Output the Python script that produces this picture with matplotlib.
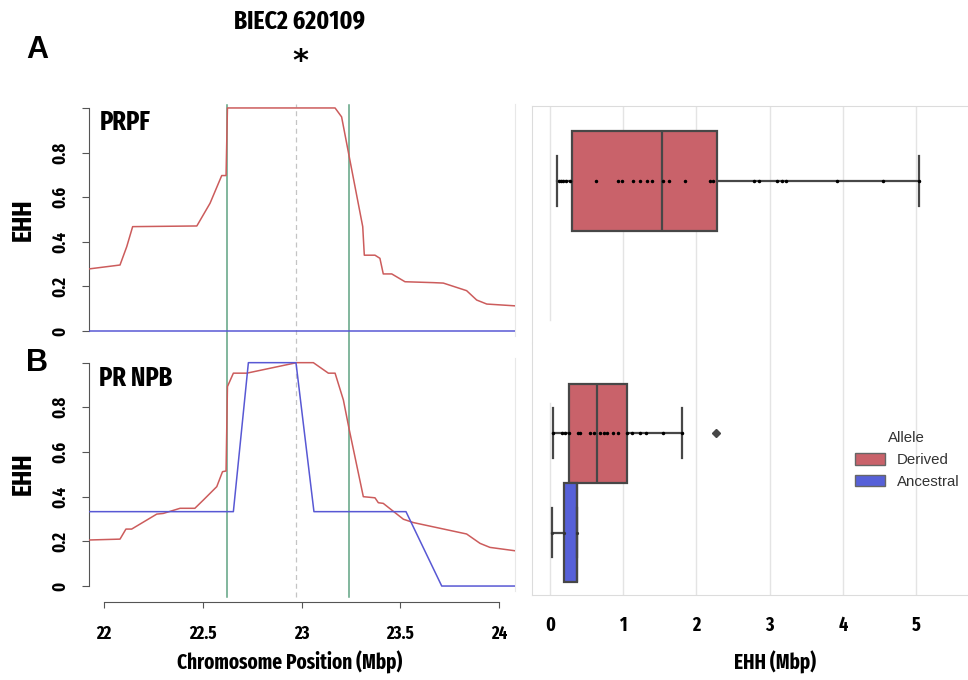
import matplotlib
matplotlib.use("Agg")
import matplotlib.pyplot as plt
from matplotlib import font_manager as fm
from matplotlib.patches import Patch

# -----------------------------------------------------------------------------
# DATA
# -----------------------------------------------------------------------------
# Panel A (PRPF): EHH decay around BIEC2 620109
prpf_der_pos = [21.92, 22.081, 22.115, 22.145, 22.47, 22.537, 22.596, 22.618, 22.625,
                23.17, 23.203, 23.242, 23.31, 23.318, 23.372, 23.397, 23.414, 23.457,
                23.524, 23.667, 23.718, 23.836, 23.887, 23.938, 24.08]
prpf_der_ehh = [0.278, 0.296, 0.378, 0.468, 0.471, 0.573, 0.697, 0.697, 1.0,
                1.0, 0.96, 0.78, 0.468, 0.34, 0.34, 0.326, 0.256, 0.256,
                0.221, 0.217, 0.215, 0.181, 0.139, 0.121, 0.113]
prpf_anc_pos = [21.92, 24.08]
prpf_anc_ehh = [0.0, 0.0]

# Panel B (PR NPB)
npb_der_pos = [21.92, 22.081, 22.111, 22.14, 22.267, 22.30, 22.385, 22.46, 22.503,
               22.571, 22.60, 22.618, 22.625, 22.655, 22.723, 22.975, 23.06, 23.136,
               23.17, 23.212, 23.242, 23.313, 23.372, 23.389, 23.414, 23.516, 23.567,
               23.836, 23.904, 23.954, 24.08]
npb_der_ehh = [0.206, 0.21, 0.255, 0.255, 0.322, 0.325, 0.348, 0.348, 0.385,
               0.445, 0.512, 0.515, 0.893, 0.953, 0.953, 1.0, 1.0, 0.953,
               0.953, 0.833, 0.699, 0.40, 0.395, 0.373, 0.37, 0.299, 0.284,
               0.233, 0.191, 0.173, 0.158]
npb_anc_pos = [21.92, 22.655, 22.731, 22.972, 23.063, 23.529, 23.71, 24.08]
npb_anc_ehh = [0.333, 0.333, 1.0, 1.0, 0.333, 0.333, 0.0, 0.0]

core_bounds = [22.623, 23.24]   # green lines
focal_snp = 22.972              # dashed line

pos_ticks = [22, 22.5, 23, 23.5, 24]
pos_labels = ["22", "22.5", "23", "23.5", "24"]
ehh_ticks = [0, 0.2, 0.4, 0.6, 0.8, 1.0]
ehh_labels = ["0", "0.2", "0.4", "0.6", "0.8", ""]

# Box plots of EHH length (Mbp)
prpf_box = dict(med=1.535, q1=0.296, q3=2.277, whislo=0.10, whishi=5.04, fliers=[])
prpf_points = [0.12, 0.15, 0.18, 0.22, 0.27, 0.63, 0.93, 0.98, 1.14, 1.23, 1.32, 1.39,
               1.54, 1.63, 1.85, 2.19, 2.22, 2.78, 2.85, 3.10, 3.17, 3.23, 3.92, 4.55, 5.04]

npb_der_box = dict(med=0.642, q1=0.26, q3=1.048, whislo=0.045, whishi=1.80, fliers=[2.272])
npb_der_points = [0.046, 0.16, 0.205, 0.264, 0.387, 0.41, 0.546, 0.60, 0.683, 0.738,
                  0.774, 0.865, 0.934, 1.048, 1.116, 1.23, 1.31, 1.548, 1.803]
npb_anc_box = dict(med=0.373, q1=0.191, q3=0.373, whislo=0.032, whishi=0.373, fliers=[])
npb_anc_points = [0.032, 0.191, 0.373]

box_ticks = [0, 1, 2, 3, 4, 5]
alleles = ["Derived", "Ancestral"]


# -----------------------------------------------------------------------------
# FONTS: look for a condensed bold face, else fall back to a narrow-ish one
# -----------------------------------------------------------------------------
def find_condensed_bold():
    ranked = []
    for f in fm.fontManager.ttflist:
        p = f.fname.lower().replace("-", "").replace("_", "")
        if "bold" not in p or "semibold" in p or "extrabold" in p or "italic" in p:
            continue
        if "extracondensed" in p:
            score = 0
        elif "semicondensed" in p:
            score = 3
        elif "condensed" in p:
            score = 1
        elif "narrow" in p:
            score = 2
        else:
            continue
        ranked.append((score, f.fname))
    ranked.sort()
    return ranked[0][1] if ranked else None


cond_file = find_condensed_bold()


def cfont(size):
    if cond_file:
        return dict(fontproperties=fm.FontProperties(fname=cond_file, size=size))
    return dict(family=["Roboto", "DejaVu Sans"], fontweight="bold", fontsize=size * 0.85)


# -----------------------------------------------------------------------------
# STYLE
# -----------------------------------------------------------------------------
RED_LINE = "#cc5c5c"
BLUE_LINE = "#5858d4"
GREEN = "#5fa383"
RED_BOX = "#c9626a"
BLUE_BOX = "#5660d8"
EDGE = "#474747"
GRID = "#e4e4e4"

W, H = 968, 680
fig = plt.figure(figsize=(W / 100, H / 100), dpi=100)


def fx(px):
    return px / W


def fy(py):
    return 1 - py / H


# -----------------------------------------------------------------------------
# LEFT: EHH decay curves
# -----------------------------------------------------------------------------
axA = fig.add_axes([fx(89), fy(335.5), 426 / W, 232 / H])
axB = fig.add_axes([fx(89), fy(590.5), 426 / W, 232.3 / H])
axB.patch.set_visible(False)

for ax in (axA, axB):
    ax.set_xlim(21.924, 24.081)
    ax.set_ylim(-0.02, 1.02)
    for s in ("top", "bottom"):
        ax.spines[s].set_visible(False)
    ax.spines["right"].set_color("#e8e8e8")
    ax.spines["left"].set_bounds(0, 1)
    ax.spines["left"].set_color("#555555")
    ax.set_yticks(ehh_ticks)
    ax.set_yticklabels(ehh_labels, rotation=90, va="center", **cfont(13))
    ax.tick_params(axis="y", length=5, color="#555555", pad=9)

axA.set_xticks([])
axA.plot(prpf_der_pos, prpf_der_ehh, color=RED_LINE, lw=1.1, zorder=3)
axA.plot(prpf_anc_pos, prpf_anc_ehh, color=BLUE_LINE, lw=1.1, zorder=3)
axB.plot(npb_der_pos, npb_der_ehh, color=RED_LINE, lw=1.1, zorder=3)
axB.plot(npb_anc_pos, npb_anc_ehh, color=BLUE_LINE, lw=1.1, zorder=3)

# vertical guide lines spanning both panels
for x in core_bounds:
    axA.axvline(x, ymin=-1.127, ymax=0.994, color=GREEN, lw=1.1, clip_on=False, zorder=2)
axA.axvline(focal_snp, ymin=-1.127, ymax=1.0, color="#c4c4c4", lw=0.9, ls=(0, (4, 3)),
            clip_on=False, zorder=1)

axB.spines["bottom"].set_visible(True)
axB.spines["bottom"].set_position(("outward", 8))
axB.spines["bottom"].set_bounds(22, 24)
axB.spines["bottom"].set_color("#555555")
axB.set_xticks(pos_ticks)
axB.set_xticklabels(pos_labels, **cfont(13))
axB.tick_params(axis="x", length=4, color="#555555", pad=13)

axA.text(0.026, 0.92, "PRPF", transform=axA.transAxes, ha="left", va="center", **cfont(19))
axB.text(0.023, 0.915, "PR NPB", transform=axB.transAxes, ha="left", va="center", **cfont(19))

fig.text(fx(23), fy(220), "EHH", rotation=90, ha="center", va="center", **cfont(20))
fig.text(fx(23), fy(474), "EHH", rotation=90, ha="center", va="center", **cfont(20))
fig.text(fx(290), fy(662), "Chromosome Position (Mbp)", ha="center", va="center", **cfont(15))

fig.text(fx(300), fy(21), "BIEC2 620109", ha="center", va="center", **cfont(18.5))
fig.text(fx(300), fy(62), "*", ha="center", va="center", fontsize=22, fontweight="bold")
fig.text(fx(37), fy(50), "A", ha="center", va="center", fontsize=22,
         family="Liberation Sans", fontweight="bold")
fig.text(fx(37), fy(363), "B", ha="center", va="center", fontsize=22,
         family="Liberation Sans", fontweight="bold")

# -----------------------------------------------------------------------------
# RIGHT: box plots
# -----------------------------------------------------------------------------
axR1 = fig.add_axes([fx(532), fy(343), (W - 532) / W, (343 - 106) / H])
axR2 = fig.add_axes([fx(532), fy(595), (W - 532) / W, (595 - 343) / H])

axR1.set_ylim(1.306, -0.605)
axR2.set_ylim(0.451, -0.563)

box_kw = dict(orientation="horizontal", patch_artist=True, manage_ticks=False,
              boxprops=dict(edgecolor=EDGE, linewidth=1.6),
              medianprops=dict(color=EDGE, linewidth=1.6),
              whiskerprops=dict(color=EDGE, linewidth=1.6),
              capprops=dict(color=EDGE, linewidth=1.6),
              flierprops=dict(marker="D", markersize=4.5, markerfacecolor=EDGE,
                              markeredgecolor=EDGE))

b1 = axR1.bxp([prpf_box], positions=[0], widths=[0.8], capwidths=[0.4], **box_kw)
b2 = axR2.bxp([npb_der_box, npb_anc_box], positions=[-0.2, 0.2], widths=[0.4, 0.4],
              capwidths=[0.2, 0.2], **box_kw)
b1["boxes"][0].set_facecolor(RED_BOX)
b2["boxes"][0].set_facecolor(RED_BOX)
b2["boxes"][1].set_facecolor(BLUE_BOX)

axR1.plot(prpf_points, [0] * len(prpf_points), "o", ms=1.5, color="black", zorder=4)
axR2.plot(npb_der_points, [-0.2] * len(npb_der_points), "o", ms=1.5, color="black", zorder=4)
axR2.plot(npb_anc_points, [0.2] * len(npb_anc_points), "o", ms=1.3, color="#333333", zorder=4)

for ax in (axR1, axR2):
    ax.set_xlim(-0.246, 5.71)
    ax.set_yticks([])
    ax.spines["right"].set_visible(False)
    for s in ("left", "top", "bottom"):
        ax.spines[s].set_color("#dcdcdc")
    for v in box_ticks[1:]:
        ax.axvline(v, color=GRID, lw=1.0, zorder=0)

axR1.axvline(box_ticks[0], ymin=0.097, ymax=1.0, color=GRID, lw=1.0, zorder=0)
axR2.axvline(box_ticks[0], ymin=0.0, ymax=0.762, color=GRID, lw=1.0, zorder=0)

axR1.spines["bottom"].set_visible(False)
axR1.set_xticks([])
axR2.spines["top"].set_visible(False)
axR2.set_xticks(box_ticks)
axR2.set_xticklabels([str(t) for t in box_ticks], **cfont(14))
axR2.tick_params(axis="x", length=0, pad=15)

fig.text(fx(775), fy(662), "EHH (Mbp)", ha="center", va="center", **cfont(15))

handles = [Patch(facecolor=RED_BOX, edgecolor="#666666", lw=1.0),
           Patch(facecolor=BLUE_BOX, edgecolor="#666666", lw=1.0)]
leg = fig.legend(handles, alleles, title="Allele", loc="center left",
                 bbox_to_anchor=(fx(841), fy(460)), frameon=False,
                 prop=dict(family="Liberation Sans", size=10.8),
                 title_fontproperties=dict(family="Liberation Sans", size=10.8),
                 handlelength=2.0, handleheight=0.8, handletextpad=0.8, labelspacing=0.5)
for t in leg.get_texts():
    t.set_color("#333333")
leg.get_title().set_color("#333333")

fig.savefig("out.png", dpi=100)
